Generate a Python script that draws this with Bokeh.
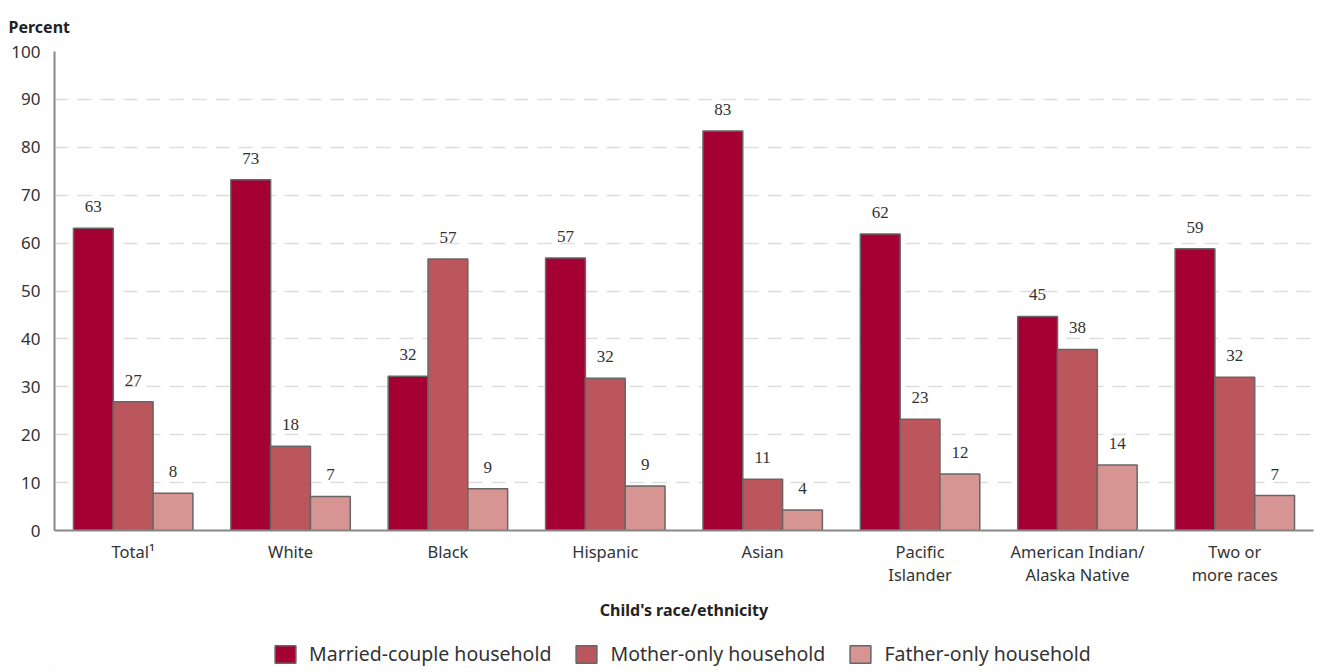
from bokeh.plotting import figure
from bokeh.layouts import column
from bokeh.models import (ColumnDataSource, FactorRange, Range1d, LabelSet, Legend,
                          LegendItem, SingleIntervalTicker)
from bokeh.transform import dodge
from bokeh.embed import file_html
from bokeh.resources import INLINE

categories = ["Total\u00b9", "White", "Black", "Hispanic", "Asian",
              "Pacific\nIslander", "American Indian/\nAlaska Native", "Two or\nmore races"]
married = [63.1, 73.2, 32.2, 56.9, 83.4, 61.9, 44.7, 58.8]
mother = [26.9, 17.6, 56.7, 31.8, 10.7, 23.2, 37.8, 32.0]
father = [7.8, 7.1, 8.7, 9.3, 4.3, 11.8, 13.7, 7.3]
series_names = ["Married-couple household", "Mother-only household", "Father-only household"]

FONT = "Noto Sans"
colors = ["#A50034", "#BC565D", "#D69593"]

src = ColumnDataSource(dict(
    cat=categories,
    married=married, mother=mother, father=father,
    married_lbl=[str(round(v)) for v in married],
    mother_lbl=[str(round(v)) for v in mother],
    father_lbl=[str(round(v)) for v in father],
))

p = figure(x_range=FactorRange(*categories), y_range=Range1d(0, 100),
           frame_width=1259, frame_height=479, output_backend="svg", toolbar_location=None,
           min_border_left=54, min_border_right=4, min_border_top=51, min_border_bottom=0)
p.outline_line_color = None
p.background_fill_color = "white"
p.border_fill_color = "white"

p.title.text = "Percent"
p.title.align = "left"
p.title.vertical_align = "top"
p.title.offset = -46
p.title.text_font = FONT
p.title.text_font_size = "16px"
p.title.text_font_style = "bold"
p.title.text_color = "#222222"
p.title.standoff = 24

bw = 0.253
offsets = [-bw, 0, bw]
fields = ["married", "mother", "father"]
for f, off, c in zip(fields, offsets, colors):
    p.vbar(x=dodge("cat", off, range=p.x_range), top=f, width=bw, source=src,
           fill_color=c, line_color="#666666", line_width=1.5)
    lbl = LabelSet(x=dodge("cat", off, range=p.x_range), y=f, text=f + "_lbl", source=src,
                   text_align="center", text_baseline="alphabetic", y_offset=16,
                   text_font=FONT, text_font_size="17px", text_color="#333333")
    p.add_layout(lbl)

# axes
p.yaxis.ticker = SingleIntervalTicker(interval=10)
p.yaxis.major_tick_line_color = None
p.yaxis.minor_tick_line_color = None
p.yaxis.axis_line_color = "#888888"
p.yaxis.axis_line_width = 2
p.yaxis.major_label_text_font = FONT
p.yaxis.major_label_text_font_size = "17px"
p.yaxis.major_label_text_color = "#333333"
p.yaxis.major_label_standoff = 8

p.xaxis.major_tick_line_color = None
p.xaxis.minor_tick_line_color = None
p.xaxis.axis_line_color = "#888888"
p.xaxis.axis_line_width = 2
p.xaxis.major_label_text_font = FONT
p.xaxis.major_label_text_font_size = "16.5px"
p.xaxis.major_label_text_color = "#333333"
p.xaxis.major_label_text_line_height = 1.0
p.xaxis.major_label_standoff = 3
p.xaxis.axis_label = "Child's race/ethnicity"
p.xaxis.axis_label_text_font = FONT
p.xaxis.axis_label_text_font_size = "16px"
p.xaxis.axis_label_text_font_style = "bold"
p.xaxis.axis_label_text_color = "#222222"
p.xaxis.axis_label_standoff = 10

p.xgrid.grid_line_color = None
p.ygrid.grid_line_color = "#dddddd"
p.ygrid.grid_line_width = 1.5
p.ygrid.grid_line_dash = "14 9"

# legend in its own strip below the chart
lf = figure(frame_width=1259, frame_height=30, x_range=Range1d(0, 1), y_range=Range1d(0, 1),
            output_backend="svg", toolbar_location=None,
            min_border_left=54, min_border_right=4, min_border_top=14, min_border_bottom=0)
lf.axis.visible = False
lf.grid.visible = False
lf.outline_line_color = None
lf.border_fill_color = "white"
lf.background_fill_color = "white"
leg_renderers = []
for c in colors:
    # swatch-only renderer, kept outside the visible range
    leg_renderers.append(lf.vbar(x=[-5], top=[-5], bottom=[-6], width=1, fill_color=c,
                                 line_color="#666666", line_width=1.5))
legend = Legend(items=[LegendItem(label=n, renderers=[r]) for n, r in zip(series_names, leg_renderers)],
                orientation="horizontal", location=(218, 0),
                glyph_width=26, glyph_height=22, label_standoff=11, spacing=22,
                label_text_font=FONT, label_text_font_size="19.5px", label_text_color="#333333",
                border_line_color=None, background_fill_alpha=0, margin=0, padding=4)
lf.add_layout(legend, "center")

layout = column(p, lf, spacing=0)
open("out.html", "w").write(file_html(layout, INLINE))
